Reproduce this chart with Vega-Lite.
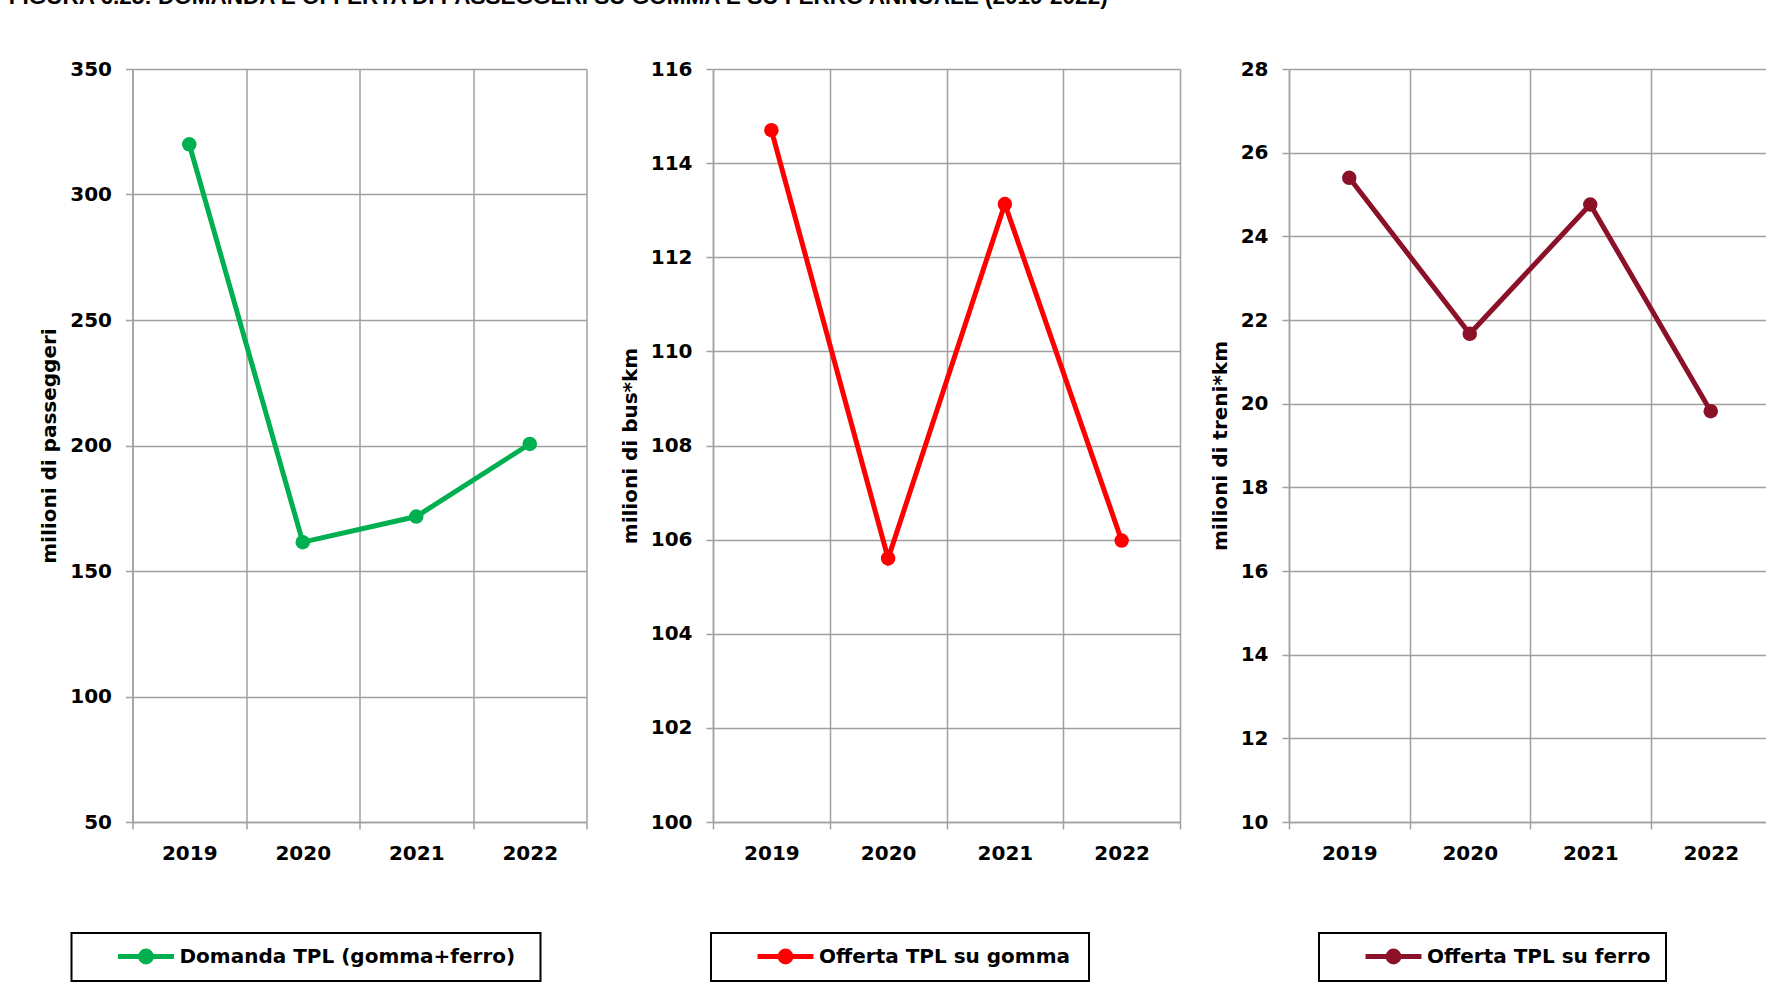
{
  "$schema": "https://vega.github.io/schema/vega-lite/v6.json",
  "background": "white",
  "padding": {"left": 8.5, "top": -15, "right": 0, "bottom": 0},
  "title": {
    "text": "FIGURA 6.25: DOMANDA E OFFERTA DI PASSEGGERI SU GOMMA E SU FERRO ANNUALE (2019-2022)",
    "anchor": "start",
    "font": "Liberation Sans",
    "fontSize": 22.5,
    "fontWeight": "bold",
    "color": "black",
    "baseline": "alphabetic",
    "dx": -31,
    "offset": 33
  },
  "config": {
    "view": {"stroke": null},
    "axis": {
      "labelFont": "DejaVu Sans",
      "labelFontSize": 20,
      "labelFontWeight": "bold",
      "labelColor": "black",
      "titleFont": "DejaVu Sans",
      "titleFontSize": 20,
      "titleFontWeight": "bold",
      "titleColor": "black",
      "gridColor": "#a0a0a0",
      "gridWidth": 1.5,
      "gridOpacity": 1,
      "tickColor": "#a0a0a0",
      "tickWidth": 1.5,
      "tickSize": 7,
      "domainColor": "#a0a0a0",
      "domainWidth": 1.5
    },
    "legend": {
      "orient": "none",
      "title": null,
      "labelFont": "DejaVu Sans",
      "labelFontSize": 20,
      "labelFontWeight": "bold",
      "labelColor": "black",
      "labelLimit": 600,
      "padding": 9,
      "symbolOffset": 51,
      "labelOffset": 19,
      "symbolSize": 576,
      "symbolStrokeWidth": 5,
      "fillColor": "white",
      "strokeColor": "black"
    }
  },
  "spacing": 32.5,
  "resolve": {"scale": {"color": "independent"}, "legend": {"color": "independent"}},
  "hconcat": [
    {
      "width": 454,
      "height": 753,
      "data": {"values": [
        {"anno": "2019", "valore": 320.0, "serie": "Domanda TPL (gomma+ferro)"},
        {"anno": "2020", "valore": 161.5, "serie": "Domanda TPL (gomma+ferro)"},
        {"anno": "2021", "valore": 171.7, "serie": "Domanda TPL (gomma+ferro)"},
        {"anno": "2022", "valore": 200.6, "serie": "Domanda TPL (gomma+ferro)"}
      ]},
      "mark": {"type": "line", "strokeWidth": 5, "point": {"filled": true, "size": 210}},
      "encoding": {
        "x": {"field": "anno", "type": "ordinal", "scale": {"paddingInner": 0, "paddingOuter": 0},
          "axis": {"title": null, "labelAngle": 0, "tickBand": "extent", "grid": true, "labelPadding": 14}},
        "y": {"field": "valore", "type": "quantitative", "scale": {"domain": [50, 350], "nice": false, "zero": false},
          "axis": {"title": "milioni di passeggeri", "values": [50, 100, 150, 200, 250, 300, 350], "labelPadding": 14, "titlePadding": 10, "grid": true}},
        "color": {"field": "serie", "type": "nominal", "scale": {"range": ["#00B050"]},
          "legend": {"legendX": -61, "legendY": 864,
            "symbolType": "M-2.33,0H2.33M-0.45,0A0.45,0.45,0,1,1,0.45,0A0.45,0.45,0,1,1,-0.45,0ZM31.25,0",
            "encode": {"symbols": {"update": {"fill": {"value": "#00B050"}, "stroke": {"value": "#00B050"}, "strokeWidth": {"value": 5}, "opacity": {"value": 1}}},
                       "legend": {"update": {"stroke": {"value": "black"}, "strokeWidth": {"value": 2}}}}}}
      }
    },
    {
      "spacing": 29,
      "resolve": {"scale": {"color": "independent"}, "legend": {"color": "independent"}},
      "hconcat": [
        {
          "width": 467,
          "height": 753,
          "data": {"values": [
            {"anno": "2019", "valore": 114.7, "serie": "Offerta TPL su gomma"},
            {"anno": "2020", "valore": 105.6, "serie": "Offerta TPL su gomma"},
            {"anno": "2021", "valore": 113.13, "serie": "Offerta TPL su gomma"},
            {"anno": "2022", "valore": 105.98, "serie": "Offerta TPL su gomma"}
          ]},
          "mark": {"type": "line", "strokeWidth": 5, "point": {"filled": true, "size": 210}},
          "encoding": {
            "x": {"field": "anno", "type": "ordinal", "scale": {"paddingInner": 0, "paddingOuter": 0},
              "axis": {"title": null, "labelAngle": 0, "tickBand": "extent", "grid": true, "labelPadding": 14}},
            "y": {"field": "valore", "type": "quantitative", "scale": {"domain": [100, 116], "nice": false, "zero": false},
              "axis": {"title": "milioni di bus*km", "values": [100, 102, 104, 106, 108, 110, 112, 114, 116], "labelPadding": 14, "titlePadding": 10, "grid": true}},
            "color": {"field": "serie", "type": "nominal", "scale": {"range": ["#FF0000"]},
              "legend": {"legendX": -2, "legendY": 864,
                "symbolType": "M-2.33,0H2.33M-0.45,0A0.45,0.45,0,1,1,0.45,0A0.45,0.45,0,1,1,-0.45,0ZM23.7,0",
                "encode": {"symbols": {"update": {"fill": {"value": "#FF0000"}, "stroke": {"value": "#FF0000"}, "strokeWidth": {"value": 5}, "opacity": {"value": 1}}},
                           "legend": {"update": {"stroke": {"value": "black"}, "strokeWidth": {"value": 2}}}}}}
          }
        },
        {
          "width": 482,
          "height": 753,
          "data": {"values": [
            {"anno": "2019", "valore": 25.4, "serie": "Offerta TPL su ferro"},
            {"anno": "2020", "valore": 21.67, "serie": "Offerta TPL su ferro"},
            {"anno": "2021", "valore": 24.76, "serie": "Offerta TPL su ferro"},
            {"anno": "2022", "valore": 19.82, "serie": "Offerta TPL su ferro"}
          ]},
          "mark": {"type": "line", "strokeWidth": 5, "point": {"filled": true, "size": 210}},
          "encoding": {
            "x": {"field": "anno", "type": "ordinal", "scale": {"paddingInner": 0, "paddingOuter": 0},
              "axis": {"title": null, "labelAngle": 0, "tickBand": "extent", "grid": true, "labelPadding": 14}},
            "y": {"field": "valore", "type": "quantitative", "scale": {"domain": [10, 28], "nice": false, "zero": false},
              "axis": {"title": "milioni di treni*km", "values": [10, 12, 14, 16, 18, 20, 22, 24, 26, 28], "labelPadding": 14, "titlePadding": 10, "grid": true}},
            "color": {"field": "serie", "type": "nominal", "scale": {"range": ["#8B1128"]},
              "legend": {"legendX": 30, "legendY": 864,
                "symbolType": "M-2.33,0H2.33M-0.45,0A0.45,0.45,0,1,1,0.45,0A0.45,0.45,0,1,1,-0.45,0ZM21.1,0",
                "encode": {"symbols": {"update": {"fill": {"value": "#8B1128"}, "stroke": {"value": "#8B1128"}, "strokeWidth": {"value": 5}, "opacity": {"value": 1}}},
                           "legend": {"update": {"stroke": {"value": "black"}, "strokeWidth": {"value": 2}}}}}}
          }
        }
      ]
    }
  ]
}
